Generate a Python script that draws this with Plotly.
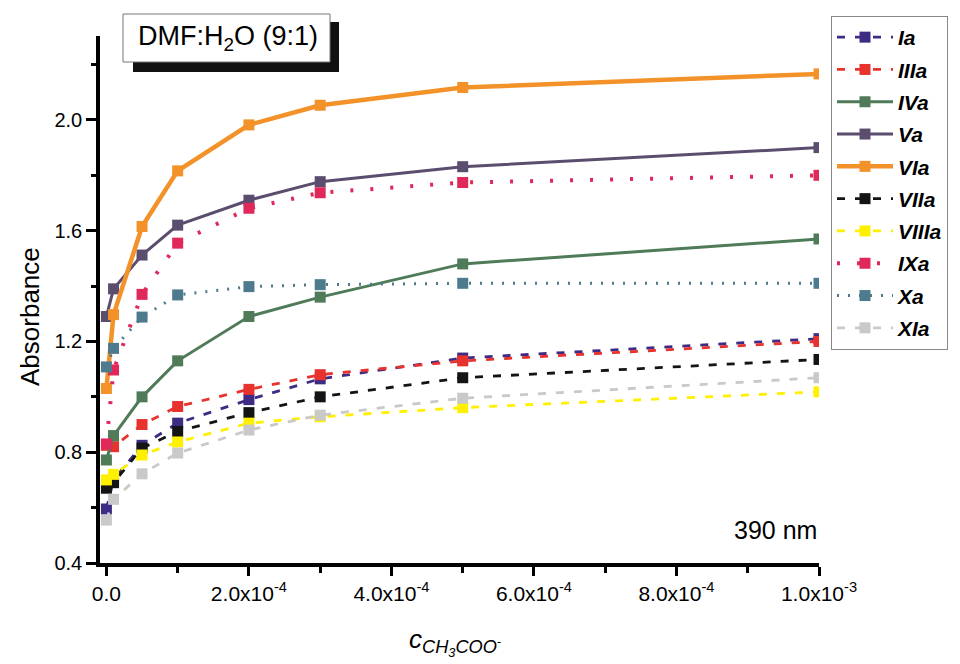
import plotly.graph_objects as go

# Acetate concentration (mol/L) for each titration step
conc = [0, 1e-5, 5e-5, 1e-4, 2e-4, 3e-4, 5e-4, 1e-3]

# Absorbance at 390 nm for each compound
Ia = [0.595, 0.70, 0.825, 0.905, 0.99, 1.065, 1.14, 1.21]
IIIa = [0.825, 0.82, 0.90, 0.965, 1.027, 1.08, 1.13, 1.20]
IVa = [0.772, 0.86, 1.00, 1.13, 1.29, 1.36, 1.48, 1.57]
Va = [1.29, 1.39, 1.512, 1.62, 1.71, 1.777, 1.831, 1.90]
VIa = [1.03, 1.297, 1.615, 1.816, 1.982, 2.053, 2.117, 2.166]
VIIa = [0.67, 0.69, 0.815, 0.875, 0.943, 1.0, 1.069, 1.135]
VIIIa = [0.70, 0.72, 0.79, 0.837, 0.905, 0.928, 0.961, 1.018]
IXa = [0.83, 1.097, 1.37, 1.555, 1.681, 1.737, 1.774, 1.80]
Xa = [1.108, 1.175, 1.288, 1.368, 1.398, 1.405, 1.41, 1.41]
XIa = [0.555, 0.63, 0.722, 0.797, 0.88, 0.934, 0.995, 1.069]

series_names = ["Ia", "IIIa", "IVa", "Va", "VIa", "VIIa", "VIIIa", "IXa", "Xa", "XIa"]
series_values = [Ia, IIIa, IVa, Va, VIa, VIIa, VIIIa, IXa, Xa, XIa]

x_tick_vals = [0, 2e-4, 4e-4, 6e-4, 8e-4, 1e-3]
x_tick_text = ["0.0", "2.0x10<sup>-4</sup>", "4.0x10<sup>-4</sup>",
               "6.0x10<sup>-4</sup>", "8.0x10<sup>-4</sup>", "1.0x10<sup>-3</sup>"]
y_tick_vals = [0.4, 0.8, 1.2, 1.6, 2.0]
y_tick_text = ["0.4", "0.8", "1.2", "1.6", "2.0"]

# line styling per series: colour, dash pattern, width
styles = {
    "Ia":    ("#3d2b84", "8px,10px", 2.8),
    "IIIa":  ("#e8322d", "8px,10px", 2.8),
    "IVa":   ("#4f7b58", "solid", 3),
    "Va":    ("#5a4d6e", "solid", 3),
    "VIa":   ("#f39229", "solid", 4.5),
    "VIIa":  ("#141414", "8px,10px", 2.8),
    "VIIIa": ("#fff000", "8px,10px", 2.8),
    "IXa":   ("#e0285a", "3px,17px", 4),
    "Xa":    ("#4e7a8e", "2px,9px", 3),
    "XIa":   ("#c9c9c9", "8px,10px", 2.8),
}

FONT = "Liberation Sans, Arial, sans-serif"

fig = go.Figure()
for name, vals in zip(series_names, series_values):
    color, dash, width = styles[name]
    fig.add_trace(go.Scatter(
        x=conc, y=vals, name=name, legendgroup=name,
        mode="lines+markers",
        line=dict(color=color, dash=dash, width=width),
        marker=dict(symbol="square", size=11, color=color, line=dict(width=0)),
    ))

# plot-area geometry in pixels (used to place boxes and labels)
W, H = 960, 664
L, R, T, B = 100, 819, 36, 563


def px(xp):
    return (xp - L) / (R - L)


def py(yp):
    return (B - yp) / (B - T)


fig.update_layout(
    width=W, height=H, autosize=False,
    margin=dict(l=L, r=W - R, t=T, b=H - B, pad=0),
    paper_bgcolor="white", plot_bgcolor="white",
    font=dict(family=FONT, color="black"),
    showlegend=True,
    legend=dict(
        x=px(831), y=py(16), xanchor="left", yanchor="top",
        bgcolor="white", bordercolor="#888888", borderwidth=1,
        font=dict(size=21, family=FONT, weight="bold", style="italic"),
        itemwidth=56, traceorder="grouped", maxheight=640,
        tracegroupgap=2,
    ),
    xaxis=dict(
        range=[-0.9e-5, 1.0e-3],
        showline=True, linecolor="black", linewidth=3.5, mirror=False,
        showgrid=False, zeroline=False,
        ticks="outside", ticklen=9, tickwidth=2.5, tickcolor="black",
        tickvals=x_tick_vals, ticktext=x_tick_text,
        tickfont=dict(size=21, family=FONT),
        minor=dict(dtick=1e-4, tick0=0, ticks="outside", ticklen=6, tickwidth=2.5,
                   tickcolor="black", showgrid=False),
    ),
    yaxis=dict(
        range=[0.4, 2.303],
        showline=True, linecolor="black", linewidth=3.5, mirror=False,
        showgrid=False, zeroline=False,
        ticks="outside", ticklen=10, tickwidth=2.5, tickcolor="black",
        tickvals=y_tick_vals, ticktext=y_tick_text,
        tickfont=dict(size=20, family=FONT),
        minor=dict(dtick=0.2, tick0=0.4, ticks="outside", ticklen=5, tickwidth=2.5,
                   tickcolor="black", showgrid=False),
    ),
)

# solvent label box with drop shadow
fig.add_shape(type="rect", xref="paper", yref="paper",
              x0=px(133), x1=px(339), y0=py(72), y1=py(22),
              fillcolor="#111111", line=dict(width=0), layer="above")
fig.add_shape(type="rect", xref="paper", yref="paper",
              x0=px(123), x1=px(330), y0=py(62), y1=py(14),
              fillcolor="white", line=dict(color="#777777", width=1), layer="above")
fig.add_annotation(xref="paper", yref="paper", x=px(228), y=py(38),
                   text="DMF:H<sub>2</sub>O (9:1)", showarrow=False,
                   font=dict(size=27, family=FONT), xanchor="center", yanchor="middle")

fig.add_annotation(xref="paper", yref="paper", x=px(819), y=py(530),
                   text="390 nm", showarrow=False,
                   font=dict(size=25, family=FONT), xanchor="right", yanchor="middle")

# axis titles
fig.add_annotation(xref="paper", yref="paper", x=px(30), y=py(317),
                   text="Absorbance", textangle=-90, showarrow=False,
                   font=dict(size=26, family=FONT), xanchor="center", yanchor="middle")
fig.add_annotation(xref="paper", yref="paper", x=px(455), y=py(642),
                   text="<i>c</i><sub><i>CH<sub>3</sub>COO<sup>-</sup></i></sub>",
                   showarrow=False,
                   font=dict(size=26, family=FONT), xanchor="center", yanchor="middle")

fig.write_html("out.html")
